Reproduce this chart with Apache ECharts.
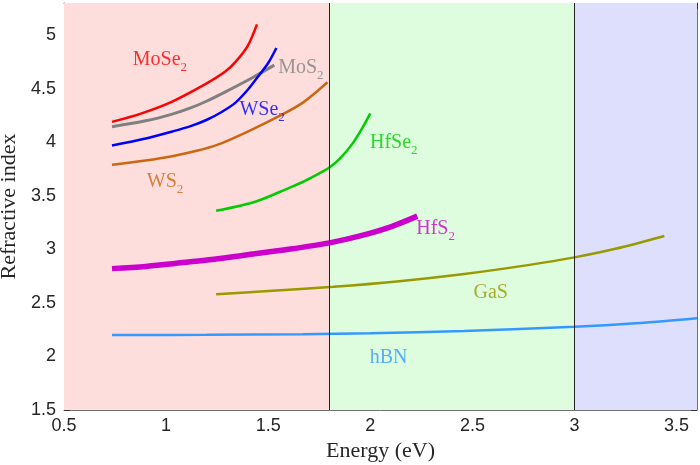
<!DOCTYPE html>
<html>
<head>
<meta charset="utf-8">
<script src="https://cdn.jsdelivr.net/npm/echarts@6/dist/echarts.min.js"></script>
<style>
  html, body { margin: 0; padding: 0; background: #fff; }
  #main { width: 700px; height: 465px; }
</style>
</head>
<body>
<div id="main"></div>
<script>
// energy (eV) and refractive index
const moSe2E = [0.735, 0.88, 1.03, 1.19, 1.29, 1.34, 1.40, 1.445];
const moSe2N = [4.19, 4.27, 4.38, 4.54, 4.66, 4.75, 4.90, 5.10];
const moS2E = [0.735, 0.9, 1.03, 1.12, 1.20, 1.30, 1.42, 1.53];
const moS2N = [4.145, 4.20, 4.263, 4.32, 4.385, 4.48, 4.60, 4.72];
const wSe2E = [0.735, 0.9, 1.03, 1.12, 1.20, 1.27, 1.34, 1.40, 1.445, 1.50, 1.54];
const wSe2N = [3.97, 4.035, 4.10, 4.15, 4.21, 4.28, 4.37, 4.49, 4.60, 4.74, 4.88];
const wS2E = [0.735, 0.9, 1.03, 1.15, 1.25, 1.40, 1.57, 1.67, 1.73, 1.79];
const wS2N = [3.79, 3.83, 3.87, 3.92, 3.975, 4.10, 4.26, 4.37, 4.46, 4.56];
const hfSe2E = [1.245, 1.44, 1.60, 1.68, 1.75, 1.80, 1.85, 1.91, 1.96, 2.0];
const hfSe2N = [3.36, 3.447, 3.572, 3.64, 3.71, 3.765, 3.845, 3.98, 4.13, 4.27];
const hfS2E = [0.735, 0.9, 1.05, 1.2, 1.4, 1.6, 1.8, 1.95, 2.1, 2.23];
const hfS2N = [2.82, 2.84, 2.87, 2.90, 2.95, 3.00, 3.06, 3.125, 3.21, 3.31];
const gaSE = [1.245, 1.5, 1.82, 2.13, 2.46, 2.78, 3.0, 3.2, 3.44];
const gaSN = [2.58, 2.61, 2.65, 2.70, 2.77, 2.855, 2.925, 3.005, 3.125];
const hBNE = [0.735, 1.2, 1.67, 2.0, 2.46, 3.0, 3.3, 3.6];
const hBNN = [2.20, 2.202, 2.208, 2.217, 2.237, 2.277, 2.31, 2.357];

// shaded energy ranges
const bandStart = [0.5, 1.8, 3.0];
const bandEnd = [1.8, 3.0, 3.6];
const bandEdges = [1.8, 3.0];

const yTicks = [1.5, 2, 2.5, 3, 3.5, 4, 4.5, 5];

const curves = [
  {name: 'MoSe', sub: '2', e: moSe2E, n: moSe2N, color: '#FF0000', width: 2.5, at: [0.97, 4.79]},
  {name: 'MoS', sub: '2', e: moS2E, n: moS2N, color: '#808080', width: 3, at: [1.66, 4.71]},
  {name: 'WSe', sub: '2', e: wSe2E, n: wSe2N, color: '#0000FF', width: 2.5, at: [1.47, 4.32]},
  {name: 'WS', sub: '2', e: wS2E, n: wS2N, color: '#CC6611', width: 2.5, at: [0.995, 3.65]},
  {name: 'HfSe', sub: '2', e: hfSe2E, n: hfSe2N, color: '#00CC00', width: 2.5, at: [2.115, 4.01]},
  {name: 'HfS', sub: '2', e: hfS2E, n: hfS2N, color: '#CC00CC', width: 5.5, at: [2.32, 3.21]},
  {name: 'GaS', sub: '', e: gaSE, n: gaSN, color: '#999900', width: 2.5, at: [2.59, 2.61]},
  {name: 'hBN', sub: '', e: hBNE, n: hBNN, color: '#3399FF', width: 2.5, at: [2.09, 2.01]}
];
const bandColors = ['#FDDEDD', '#DEFDDE', '#DEDEFD'];
const serif = 'Liberation Serif, DejaVu Serif, serif';

const chart = echarts.init(document.getElementById('main'), null, {renderer: 'canvas'});

const tickFont = {color: '#262626', fontSize: 18, fontFamily: 'Liberation Sans, Arial, sans-serif'};
const frame = {show: true, lineStyle: {color: '#707070', width: 1}};
const ticks = {show: true, inside: true, length: 6, lineStyle: {color: '#333'}};

const series = [];
// background bands and separators
series.push({
  type: 'line',
  data: [],
  z: 1,
  markArea: {
    silent: true,
    data: bandStart.map((s, i) => [
      {xAxis: s, yAxis: 1.5, itemStyle: {color: bandColors[i]}},
      {xAxis: bandEnd[i], yAxis: 5.3}
    ])
  },
  markLine: {
    silent: true,
    symbol: 'none',
    label: {show: false},
    lineStyle: {color: '#222', width: 1, type: 'solid'},
    data: bandEdges.map(v => ({xAxis: v}))
  }
});

curves.forEach(c => {
  series.push({
    type: 'line',
    z: 3,
    smooth: 0.3,
    showSymbol: false,
    data: c.e.map((x, i) => [x, c.n[i]]),
    lineStyle: {color: c.color, width: c.width},
    itemStyle: {color: c.color}
  });
});

// curve names
series.push({
  type: 'scatter',
  z: 4,
  symbolSize: 0,
  silent: true,
  data: curves.map(c => ({
    value: c.at,
    label: {
      show: true,
      position: 'inside',
      formatter: c.sub ? '{a|' + c.name + '}{s|' + c.sub + '}' : '{a|' + c.name + '}',
      rich: {
        a: {color: c.color, fontSize: 20, fontFamily: serif, lineHeight: 24, verticalAlign: 'bottom'},
        s: {color: c.color, fontSize: 13, fontFamily: serif, lineHeight: 24, verticalAlign: 'bottom', padding: [0, 0, -4, 0]}
      }
    }
  }))
});

chart.setOption({
  animation: false,
  grid: {left: 64, right: 3, top: 3, bottom: 55, outerBoundsMode: 'none', containLabel: false},
  xAxis: [
    {
      type: 'value', min: 0.5, max: 3.6, interval: 0.5, position: 'bottom',
      name: 'Energy (eV)', nameLocation: 'middle', nameGap: 28,
      nameTextStyle: {color: '#262626', fontSize: 22, fontFamily: serif},
      axisLine: frame,
      axisTick: ticks,
      axisLabel: Object.assign({margin: 7, showMaxLabel: false}, tickFont),
      splitLine: {show: false}
    },
    {
      type: 'value', min: 0.5, max: 3.6, interval: 0.5, position: 'top',
      axisLine: frame,
      axisTick: ticks,
      axisLabel: {show: false},
      splitLine: {show: false}
    }
  ],
  yAxis: [
    {
      type: 'value', min: 1.5, max: 5.3, interval: 0.5, position: 'left',
      name: 'Refractive index', nameLocation: 'middle', nameGap: 36,
      nameTextStyle: {color: '#262626', fontSize: 22, fontFamily: serif},
      axisLine: frame,
      axisTick: ticks,
      axisLabel: Object.assign({margin: 8, showMaxLabel: false, formatter: v => yTicks.includes(v) ? String(v) : ''}, tickFont),
      splitLine: {show: false}
    },
    {
      type: 'value', min: 1.5, max: 5.3, interval: 0.5, position: 'right',
      axisLine: frame,
      axisTick: ticks,
      axisLabel: {show: false},
      splitLine: {show: false}
    }
  ],
  series: series
});
</script>
</body>
</html>
